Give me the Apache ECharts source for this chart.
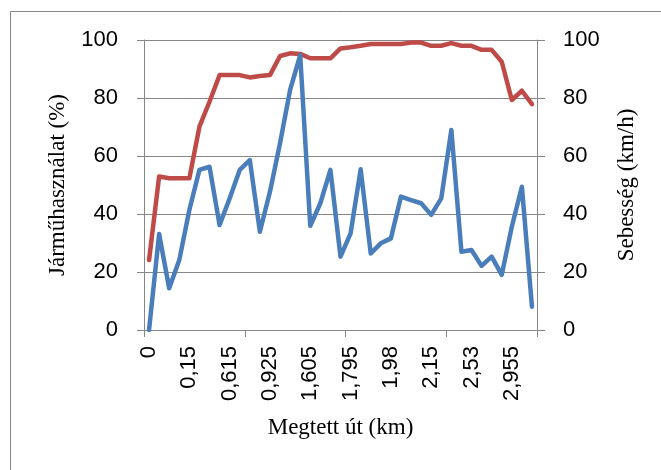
<!DOCTYPE html>
<html>
<head>
<meta charset="utf-8">
<script src="https://cdn.jsdelivr.net/npm/echarts@6/dist/echarts.min.js"></script>
<style>
  html, body { margin: 0; padding: 0; background: #fff; }
  #chart { width: 661px; height: 470px; }
</style>
</head>
<body>
<div id="chart"></div>
<script>
// megtett út (km) - only every 4th distance is labelled on the axis
var distances = [
  '0', '', '', '', '0,15', '', '', '', '0,615', '', '', '', '0,925', '', '', '', '1,605', '', '', '',
  '1,795', '', '', '', '1,98', '', '', '', '2,15', '', '', '', '2,53', '', '', '', '2,955', '', ''
];
// járműhasználat (%)
var usage = [
  0, 33.1, 14.4, 24.1, 41.4, 55.2, 56.3, 36.2, 45.4, 55.2, 58.6, 33.9, 47.7, 64.4, 82.8, 94.8, 35.9, 43.7, 55.2, 25.3,
  33.3, 55.4, 26.4, 29.9, 31.6, 46, 44.8, 43.7, 39.7, 45.4, 69, 27, 27.6, 22.1, 25.3, 19, 35.6, 49.4, 8
];
// sebesség (km/h)
var speed = [
  24.1, 52.9, 52.3, 52.3, 52.3, 70.1, 78.7, 87.9, 87.9, 87.9, 87.1, 87.6, 87.9, 94.5, 95.4, 95.2, 93.7, 93.7, 93.7, 97.1,
  97.5, 98, 98.6, 98.6, 98.6, 98.6, 99.1, 99.1, 98, 98, 98.9, 98, 98, 96.6, 96.6, 92.5, 79.3, 82.5, 77.9
];

var gray = '#868686';
var tickFont = { color: '#000', fontFamily: 'Liberation Sans', fontSize: 22 };
var nameFont = { color: '#000', fontFamily: 'Liberation Serif', fontSize: 23 };

var chart = echarts.init(document.getElementById('chart'));
chart.setOption({
  animation: false,
  // keret
  graphic: [{
    type: 'rect',
    shape: { x: 10.5, y: 11.5, width: 700, height: 500 },
    style: { fill: 'none', stroke: gray, lineWidth: 1 },
    silent: true
  }],
  grid: { left: 144, right: 124, top: 40, bottom: 140 },
  xAxis: {
    type: 'category',
    data: distances,
    boundaryGap: true,
    name: 'Megtett út (km)',
    nameLocation: 'middle',
    nameGap: 86,
    nameTextStyle: nameFont,
    axisLine: { lineStyle: { color: gray, width: 1 } },
    axisTick: { show: true, interval: 9, length: 7, lineStyle: { color: gray } },
    axisLabel: Object.assign({ interval: 3, rotate: 90, margin: 16 }, tickFont),
    splitLine: { show: false }
  },
  yAxis: [
    {
      type: 'value',
      min: 0, max: 100, interval: 20,
      name: 'Járműhasználat (%)',
      nameLocation: 'middle',
      nameGap: 75,
      nameRotate: 90,
      nameTextStyle: nameFont,
      axisLine: { show: true, lineStyle: { color: gray } },
      axisTick: { show: true, length: 7, lineStyle: { color: gray } },
      axisLabel: Object.assign({ margin: 26 }, tickFont),
      splitLine: { lineStyle: { color: gray, width: 1 } }
    },
    {
      type: 'value',
      position: 'right',
      min: 0, max: 100, interval: 20,
      name: 'Sebesség (km/h)',
      nameLocation: 'middle',
      nameGap: 78,
      nameRotate: 90,
      nameTextStyle: nameFont,
      axisLine: { show: true, lineStyle: { color: gray } },
      axisTick: { show: true, length: 8, lineStyle: { color: gray } },
      axisLabel: Object.assign({ margin: 26 }, tickFont),
      splitLine: { show: false }
    }
  ],
  series: [
    {
      name: 'Sebesség',
      type: 'line',
      yAxisIndex: 1,
      data: speed,
      showSymbol: false,
      lineStyle: { color: '#BE4B48', width: 4.5, join: 'round', cap: 'round' },
      itemStyle: { color: '#BE4B48' }
    },
    {
      name: 'Járműhasználat',
      type: 'line',
      yAxisIndex: 0,
      data: usage,
      showSymbol: false,
      lineStyle: { color: '#4A7EBB', width: 4.5, join: 'round', cap: 'round' },
      itemStyle: { color: '#4A7EBB' }
    }
  ]
});
</script>
</body>
</html>
